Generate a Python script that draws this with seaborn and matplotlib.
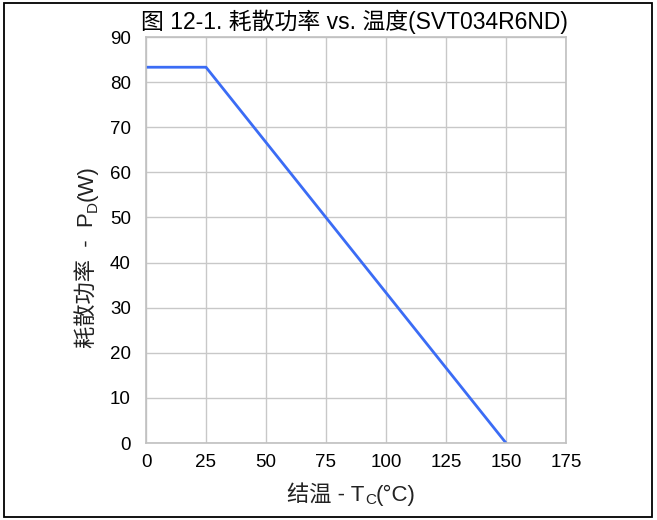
import matplotlib
matplotlib.use("Agg")
import matplotlib.pyplot as plt
import seaborn as sns
import pandas as pd
from matplotlib.patches import Rectangle

# Data
temperature_c = [0, 25, 150]
power_w = [83.3, 83.3, 0]
x_ticks = [0, 25, 50, 75, 100, 125, 150, 175]
y_ticks = [0, 10, 20, 30, 40, 50, 60, 70, 80, 90]

title_text = "图 12-1. 耗散功率 vs. 温度(SVT034R6ND)"
# label pieces: (text, is_subscript)
xlabel_pieces = [("结温 - T", False), ("C", True), ("(°C)", False)]
ylabel_pieces = [("耗散功率  -  P", False), ("D", True), ("(W)", False)]

FAM = ['Liberation Sans', 'Noto Sans CJK SC', 'DejaVu Sans']

sns.set_theme(style="whitegrid")
plt.rcParams['font.family'] = FAM
plt.rcParams['axes.unicode_minus'] = False

W_PX, H_PX = 657, 520
df = pd.DataFrame({"T": temperature_c, "P": power_w})

fig = plt.figure(figsize=(W_PX / 100, H_PX / 100), dpi=100)
fig.patch.set_facecolor("white")
ax = fig.add_axes([146 / W_PX, 1 - 443 / H_PX, (566 - 146) / W_PX, (443 - 37) / H_PX])

sns.lineplot(data=df, x="T", y="P", ax=ax, color="#3b6cf5", linewidth=2.0)

ax.set_xlim(0, 175)
ax.set_ylim(0, 90)
ax.set_xticks(x_ticks)
ax.set_yticks(y_ticks)
ax.set_xticklabels([str(v) for v in x_ticks], fontsize=13.5, color="black")
ax.set_yticklabels([str(v) for v in y_ticks], fontsize=13.5, color="black")
ax.grid(True, color="#c8c8c8", linewidth=1.0)
for s in ax.spines.values():
    s.set_visible(True)
    s.set_color("#c0c0c0")
    s.set_linewidth(1.2)
ax.tick_params(axis='y', length=0, pad=11)
ax.tick_params(axis='x', length=0, pad=8)
ax.set_xlabel("")
ax.set_ylabel("")

fig.text(354 / W_PX, 1 - 22 / H_PX, title_text, ha="center", va="center",
         fontsize=16.5, color="black", family=FAM)

renderer = fig.canvas.get_renderer()
LABEL_FS = 16
SUB_FS = 11
SUB_DROP = 3.5


def measure(s, fs):
    t = fig.text(0, 0, s, fontsize=fs, family=FAM)
    w = t.get_window_extent(renderer).width
    t.remove()
    return w


def draw_label(pieces, center, baseline, vertical):
    widths = [measure(s, SUB_FS if sub else LABEL_FS) for s, sub in pieces]
    total = sum(widths)
    pos = center - total / 2
    for (s, sub), w in zip(pieces, widths):
        fs = SUB_FS if sub else LABEL_FS
        drop = SUB_DROP if sub else 0
        if vertical:
            x, y = baseline + drop, pos
            rot = 90
        else:
            x, y = pos, baseline - drop
            rot = 0
        fig.text(x / W_PX, y / H_PX, s, fontsize=fs, family=FAM, color="#222222",
                 ha="left", va="baseline", rotation=rot, rotation_mode="anchor")
        pos += w


# x label: centered at x=351.5px, baseline at y=501 from top
draw_label(xlabel_pieces, 351.5, H_PX - 501, vertical=False)
# y label: centered at y=256.5 from top, baseline at x=93
draw_label(ylabel_pieces, H_PX - 256.5, 93, vertical=True)

fig.patches.append(Rectangle((4 / W_PX, 3 / H_PX), 648 / W_PX, 514 / H_PX,
                             transform=fig.transFigure, fill=False,
                             edgecolor="black", linewidth=1.3))

fig.savefig("out.png", dpi=100)
